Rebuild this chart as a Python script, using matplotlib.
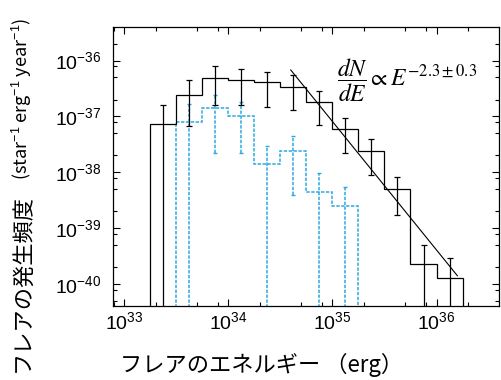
import numpy as np
import matplotlib
matplotlib.use("Agg")
import matplotlib.pyplot as plt
from matplotlib.ticker import LogLocator, NullFormatter

plt.rcParams['font.family'] = ['Liberation Sans', 'DejaVu Sans']
plt.rcParams['mathtext.fontset'] = 'custom'
plt.rcParams['mathtext.rm'] = 'Liberation Sans'
plt.rcParams['mathtext.it'] = 'Liberation Sans:italic'
plt.rcParams['mathtext.bf'] = 'Liberation Sans:bold'

# bin edges (log10 erg)
black_log_edges = [33.25, 33.5, 33.75, 34.0, 34.25, 34.5, 34.75,
                   35.0, 35.25, 35.5, 35.75, 36.0, 36.25]
blue_log_edges = [33.5, 33.75, 34.0, 34.25, 34.5, 34.75, 35.0, 35.25]

# all flares (black)
black_val = [7.4e-38, 2.45e-37, 4.9e-37, 4.4e-37, 4.1e-37, 3.3e-37,
             1.8e-37, 5.9e-38, 2.4e-38, 5.0e-39, 2.3e-40, 1.3e-40]
black_hi = [1.6e-37, 4.4e-37, 7.9e-37, 7.1e-37, 6.3e-37, 5.4e-37,
            2.9e-37, 9.5e-38, 4.0e-38, 8.3e-39, 5.1e-40, 2.9e-40]
black_lo = [0, 6.8e-38, 1.6e-37, 1.6e-37, 1.5e-37, 1.3e-37,
            6.9e-38, 2.2e-38, 9.1e-39, 1.7e-39, 0, 0]

# subsample (blue dotted)
blue_val = [7.8e-38, 1.4e-37, 1.0e-37, 1.4e-38, 2.4e-38, 4.5e-39, 2.5e-39]
blue_hi = [1.7e-37, 2.45e-37, 1.8e-37, 3.0e-38, 4.4e-38, 9.8e-39, 5.5e-39]
blue_lo = [0, 2.2e-38, 2.2e-38, 0, 4.0e-39, 0, 0]

# power-law fit
fit_index = -2.3
fit_log_range = [34.6, 36.2]
fit_log_norm = -36.17

tiny = 1e-45
blue = '#29a9e1'
dash = (0, (2.2, 1.0))


def centers(log_edges):
    e = np.array(log_edges)
    return 10 ** ((e[:-1] + e[1:]) / 2)


def errs(val, lo, hi):
    val = np.array(val)
    lo = np.where(np.array(lo) > 0, lo, tiny)
    return [val - lo, np.array(hi) - val]


fig = plt.figure(figsize=(5.01, 3.80), dpi=100)
ax = fig.add_axes([0.225, 0.195, 0.771, 0.734])
ax.set_xscale('log')
ax.set_yscale('log')

ax.stairs(blue_val, 10 ** np.array(blue_log_edges), baseline=tiny,
          color=blue, lw=1.1, ls=dash)
eb = ax.errorbar(centers(blue_log_edges), blue_val,
                 yerr=errs(blue_val, blue_lo, blue_hi), fmt='none',
                 ecolor=blue, elinewidth=1.1, capsize=1.2, capthick=1.0)
eb[2][0].set_linestyle(dash)

ax.stairs(black_val, 10 ** np.array(black_log_edges), baseline=tiny,
          color='black', lw=0.9)
ax.errorbar(centers(black_log_edges), black_val,
            yerr=errs(black_val, black_lo, black_hi), fmt='none',
            ecolor='black', elinewidth=0.9, capsize=2.2, capthick=0.9)

fx = 10 ** np.array(fit_log_range)
fy = 10 ** fit_log_norm * (fx / fx[0]) ** fit_index
ax.plot(fx, fy, color='black', lw=0.8)

ax.set_xlim(10 ** 32.89, 10 ** 36.6)
ax.set_ylim(10 ** -40.39, 10 ** -35.4)

for axis in (ax.xaxis, ax.yaxis):
    axis.set_major_locator(LogLocator(base=10, numticks=20))
    axis.set_minor_locator(LogLocator(base=10, subs=(2, 5, 8), numticks=20))
    axis.set_minor_formatter(NullFormatter())
ax.tick_params(which='both', direction='in', top=True, right=True, width=0.8)
ax.tick_params(which='major', length=5, labelsize=14)
ax.tick_params(which='minor', length=3)
ax.tick_params(axis='x', pad=4)
ax.tick_params(axis='y', pad=8)
for s in ax.spines.values():
    s.set_linewidth(0.9)

ax.text(0.58, 0.81, r'$\dfrac{dN}{dE} \propto E^{-2.3\pm0.3}$',
        transform=ax.transAxes, fontsize=17, ha='left', va='center',
        math_fontfamily='stix')

jp = ['Noto Sans CJK JP', 'DejaVu Sans']
fig.text(262 / 501, 1 - 365 / 380, 'フレアのエネルギー （erg）',
         family=jp, fontsize=16, ha='center', va='center')
fig.text(22 / 501, 1 - 283 / 380, 'フレアの発生頻度',
         family=jp, fontsize=16, rotation=90, ha='center', va='center')
fig.text(22 / 501, 1 - 99 / 380,
         '(star$^{-1}$ erg$^{-1}$ year$^{-1}$)',
         family=jp, fontsize=13, rotation=90, ha='center', va='center')

fig.savefig('out.png', dpi=100)
